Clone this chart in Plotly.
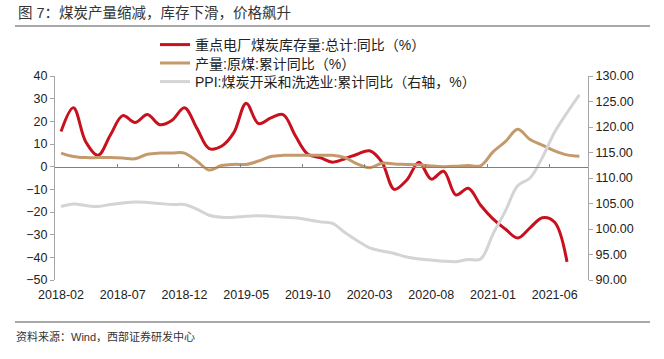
import plotly.graph_objects as go

# ---- data ----
months = [f"{y}-{m:02d}" for y in range(2018, 2022) for m in range(1, 13)]
months = months[months.index("2018-02"): months.index("2021-08") + 1]

inventory_yoy = [  # 重点电厂煤炭库存量:总计:同比 (%), 2018-02 .. 2021-07
    15.5, 26, 11, 5, 14, 22.5, 19.5, 23, 18.5, 20.5, 26,
    17, 8, 9, 15, 28, 19, 21.5, 23, 13.5, 5.5, 4, 2,
    3.5, 5.5, 7, 2, -10, -6, 2, -5.5, -2, -12.5, -9.5, -17,
    -23, -27.5, -31.5, -27, -22.5, -24.5, -42,
]
output_yoy = [  # 产量:原煤:累计同比 (%), 2018-02 .. 2021-08
    6, 4.5, 4, 4, 4, 3.8, 3.5, 5.5, 6, 6, 6,
    2.5, -1.5, 0.5, 1, 1, 2.5, 4.5, 5, 5, 5, 5, 5,
    4, 1.2, -0.5, 1.5, 1.2, 1, 0.8, 0.3, 0, 0.2, 0.5, 0.4,
    6.5, 11, 16.5, 12, 9.5, 7, 5.2, 4.6,
]
ppi = [  # PPI:煤炭开采和洗选业:累计同比 (右轴), 2018-02 .. 2021-08
    104.4, 104.9, 104.6, 104.4, 104.8, 105.1, 105.3, 105.2, 105.0, 104.8, 104.8,
    103.9, 102.7, 102.3, 102.3, 102.5, 102.6, 102.5, 102.3, 102.2, 101.8, 101.4, 101.1,
    99.3, 97.7, 96.3, 95.7, 95.2, 94.5, 94.1, 93.9, 93.7, 93.6, 94.0, 94.1,
    99.0, 103.5, 108.5, 110.0, 114.0, 119.0, 122.8, 126.3,
]
tick_labels = ["2018-02", "2018-07", "2018-12", "2019-05", "2019-10",
               "2020-03", "2020-08", "2021-01", "2021-06"]

names = ["重点电厂煤炭库存量:总计:同比（%）",
         "产量:原煤:累计同比（%）",
         "PPI:煤炭开采和洗选业:累计同比（右轴，%）"]
colors = ["#C8101E", "#C49A6C", "#D4D4D4"]

FONT = "Liberation Sans, Arial, Noto Sans CJK SC, sans-serif"
CJK = "Liberation Sans, Noto Sans CJK SC, sans-serif"

# plot area in page pixels
L, R, T, B = 55, 588, 76, 280
W, H = R - L, B - T


def px_x(p):
    return (p - L) / W


def px_y(p):
    return (B - p) / H


fig = go.Figure()
fig.add_trace(go.Scatter(x=months[:len(inventory_yoy)], y=inventory_yoy, name=names[0],
                         legend="legend", mode="lines",
                         line=dict(color=colors[0], width=3, shape="spline")))
fig.add_trace(go.Scatter(x=months, y=output_yoy, name=names[1], legend="legend2",
                         mode="lines", line=dict(color=colors[1], width=3, shape="spline")))
fig.add_trace(go.Scatter(x=months, y=ppi, name=names[2], yaxis="y2", legend="legend3",
                         mode="lines", line=dict(color=colors[2], width=3, shape="spline")))
# invisible helper trace so the zero-line tick axis is drawn
fig.add_trace(go.Scatter(x=[], y=[], xaxis="x2", showlegend=False, hoverinfo="skip"))

xr = [-0.49, 42.7]
tick_idx = [months.index(t) for t in tick_labels]
ymin, ymax = -50, 40
zero_pos = (0 - ymin) / (ymax - ymin)

leg_common = dict(x=px_x(155), xanchor="left", yanchor="middle",
                  font=dict(family=CJK, size=14, color="#222222"),
                  bgcolor="rgba(0,0,0,0)", itemwidth=30)

fig.update_layout(
    width=664, height=359,
    margin=dict(l=L, r=664 - R, t=T, b=359 - B),
    paper_bgcolor="white", plot_bgcolor="white",
    font=dict(family=FONT, size=12, color="#222222"),
    showlegend=True,
    legend=dict(y=px_y(45), **leg_common),
    legend2=dict(y=px_y(63.5), **leg_common),
    legend3=dict(y=px_y(82), **leg_common),
    xaxis=dict(type="category", range=xr, tickmode="array",
               tickvals=tick_labels, ticktext=tick_labels,
               showline=False, ticks="", showgrid=False, zeroline=False,
               ticklabelstandoff=5,
               tickfont=dict(size=12.5, color="#222222")),
    xaxis2=dict(type="linear", overlaying="x", anchor="free", position=zero_pos,
                range=xr, tickmode="array", tickvals=[i - 0.45 for i in tick_idx[1:]],
                showticklabels=False, ticks="inside", ticklen=3, tickcolor="#808080",
                showline=True, linecolor="#808080", linewidth=1, showgrid=False,
                zeroline=False),
    yaxis=dict(range=[ymin, ymax], dtick=10, tick0=0, showgrid=False, zeroline=False,
               showline=True, linecolor="#A6A6A6", linewidth=1,
               ticks="outside", ticklen=4, tickcolor="#A6A6A6",
               tickfont=dict(size=12.5, color="#222222")),
    yaxis2=dict(range=[90, 130], dtick=5, tick0=90, overlaying="y", side="right",
                showgrid=False, zeroline=False, tickformat=".2f",
                showline=True, linecolor="#A6A6A6", linewidth=1,
                ticks="outside", ticklen=4, tickcolor="#A6A6A6",
                tickfont=dict(size=12.5, color="#222222")),
)

# header / footer text and rules
fig.add_annotation(text="图 7：煤炭产量缩减，库存下滑，价格飙升", xref="paper", yref="paper",
                   x=px_x(16), y=px_y(13), xanchor="left", yanchor="middle",
                   showarrow=False, font=dict(family=CJK, size=14.5, color="#333333"))
fig.add_annotation(text="资料来源：Wind，西部证券研发中心", xref="paper", yref="paper",
                   x=px_x(14), y=px_y(336), xanchor="left", yanchor="middle",
                   showarrow=False, font=dict(family=CJK, size=11, color="#333333"))
for yy in (26, 322):
    fig.add_shape(type="line", xref="paper", yref="paper", x0=px_x(15), x1=px_x(650),
                  y0=px_y(yy), y1=px_y(yy), line=dict(color="#555555", width=1.2))

fig.write_html("out.html", config={"displayModeBar": False},
               post_script="document.body.style.margin='0px';")
